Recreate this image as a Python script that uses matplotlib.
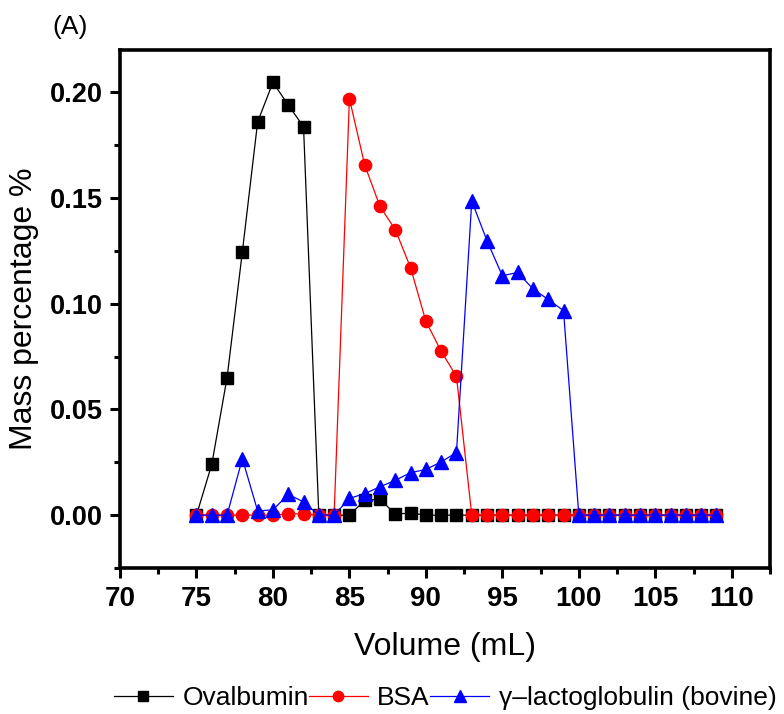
import matplotlib
matplotlib.use("Agg")
import matplotlib.pyplot as plt
from matplotlib.ticker import MultipleLocator

plt.rcParams['font.family'] = ['Liberation Sans', 'DejaVu Sans']

# Elution volume (mL)
volume = list(range(75, 110))

ovalbumin = [0.0, 0.024, 0.065, 0.1245, 0.186, 0.2047, 0.194, 0.1837, 0.0, 0.0,
             0.0, 0.007, 0.0075, 0.0005, 0.001, 0.0, 0.0, 0.0, 0.0, 0.0,
             0.0, 0.0, 0.0, 0.0, 0.0, 0.0, 0.0, 0.0, 0.0, 0.0,
             0.0, 0.0, 0.0, 0.0, 0.0]

bsa = [0.0, 0.0, 0.0, 0.0, 0.0, 0.0, 0.0006, 0.0006, 0.0, 0.0,
       0.197, 0.1656, 0.146, 0.135, 0.117, 0.0917, 0.0775, 0.0656, 0.0, 0.0,
       0.0, 0.0, 0.0, 0.0, 0.0, 0.0, 0.0, 0.0, 0.0, 0.0,
       0.0, 0.0, 0.0, 0.0, 0.0]

lactoglobulin = [0.0, 0.0, 0.0, 0.0267, 0.002, 0.0025, 0.0098, 0.0063, 0.0, 0.0,
                 0.0079, 0.0102, 0.0134, 0.0165, 0.0201, 0.0216, 0.0252, 0.0296, 0.1486, 0.1297,
                 0.1132, 0.1148, 0.107, 0.102, 0.0967, 0.0, 0.0, 0.0, 0.0, 0.0,
                 0.0, 0.0, 0.0, 0.0, 0.0]

series_labels = ["Ovalbumin", "BSA", "γ–lactoglobulin (bovine)"]

fig = plt.figure(figsize=(7.84, 7.14), dpi=100)
ax = fig.add_axes([120 / 784, 1 - 568 / 714, 650 / 784, 518 / 714])

ax.plot(volume, ovalbumin, color='black', lw=0.9, marker='s', ms=8.8,
        label=series_labels[0])
ax.plot(volume, bsa, color='red', lw=0.9, marker='o', ms=8.8,
        label=series_labels[1])
ax.plot(volume, lactoglobulin, color='blue', lw=0.9, marker='^', ms=10.2,
        label=series_labels[2])

ax.set_xlim(70, 112.5)
ax.set_ylim(-0.025, 0.22)
ax.xaxis.set_major_locator(MultipleLocator(5))
ax.xaxis.set_minor_locator(MultipleLocator(2.5))
ax.yaxis.set_major_locator(MultipleLocator(0.05))
ax.yaxis.set_minor_locator(MultipleLocator(0.025))
ax.yaxis.set_major_formatter(plt.FormatStrFormatter('%.2f'))

for s in ax.spines.values():
    s.set_linewidth(2.6)
ax.tick_params(which='both', direction='out', width=2.2, top=False, right=False)
ax.tick_params(which='major', length=7)
ax.tick_params(which='minor', length=4)
ax.tick_params(axis='x', which='major', labelsize=20, pad=6)
ax.tick_params(axis='y', which='major', labelsize=19.5, pad=5.5)
for lab in ax.get_xticklabels() + ax.get_yticklabels():
    lab.set_fontweight('bold')

ax.set_xlabel("Volume (mL)", fontsize=23, labelpad=14)
ax.set_ylabel("Mass percentage %", fontsize=23, labelpad=8)

ax.legend(loc='center', bbox_to_anchor=(0.5, -0.251), ncol=3, frameon=False,
          fontsize=19, handlelength=2.25, handletextpad=0.35, columnspacing=0.0,
          markerscale=0.85, borderpad=0, borderaxespad=0)

fig.text(52 / 784, 1 - 27 / 714, "(A)", fontsize=19, ha='left', va='center')

fig.savefig("out.png", dpi=100)
